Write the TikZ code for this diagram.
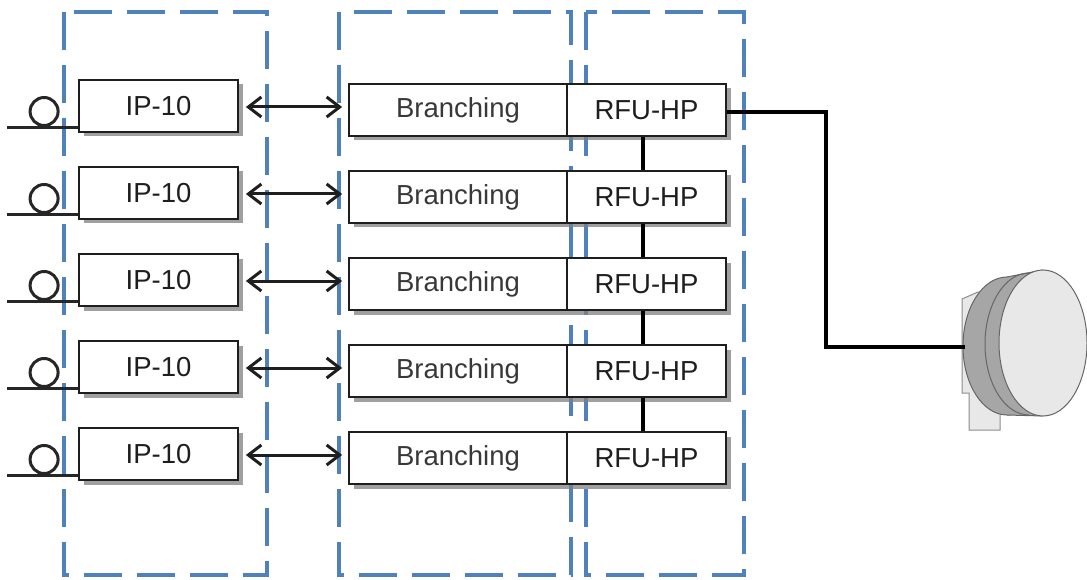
\documentclass[tikz,border=0pt]{standalone}
\usepackage{fontspec}
\setmainfont{Liberation Sans}
\usetikzlibrary{shadows,arrows.meta}
\definecolor{grpblue}{HTML}{4F81BD}
\definecolor{boxline}{HTML}{1E1E1E}
\definecolor{rimgray}{HTML}{A6A6A6}
\definecolor{facegray}{HTML}{E8E8E8}
\begin{document}
\begin{tikzpicture}[x=1pt,y=-1pt,
  unit/.style={draw=boxline, line width=1.8pt, fill=white, minimum height=52pt,
    inner sep=0pt, font=\fontsize{27.5}{30}\selectfont, text=boxline,
    drop shadow={shadow xshift=4.5pt, shadow yshift=-4.5pt, fill=black!50, opacity=0.75}},
  ipbox/.style={unit, minimum width=159pt},
  brbox/.style={unit, minimum width=218pt, text=black!78},
  rfubox/.style={unit, minimum width=159pt},
  group/.style={draw=grpblue, line width=3.6pt, dash pattern=on 38pt off 15pt},
  link/.style={draw=boxline, line width=3pt, {Straight Barb[length=13pt,width=20pt,line width=3pt]}-{Straight Barb[length=13pt,width=20pt,line width=3pt]}, shorten <=7pt, shorten >=6pt},
  feeder/.style={draw=black, line width=4pt},
  spool/.style={draw=black!85, line width=3pt}
]
\useasboundingbox (0,0) rectangle (1087,580);

% equipment groups
\draw[group] (64,12) rectangle (267,575);
\draw[group] (339,12) rectangle (571,575);
\draw[group] (586,12) rectangle (744,575);

% five radio chains
\foreach \i in {1,...,5}{
  \pgfmathsetmacro{\yy}{106+87*(\i-1)}
  \pgfmathsetmacro{\yb}{110+87*(\i-1)}
  \node[ipbox] (ip\i) at (158.5,\yy) {IP-10};
  \node[brbox] (br\i) at (458,\yb) {Branching};
  \node[rfubox] (rfu\i) at (646.5,\yb) {RFU-HP};
  \draw[link] ([yshift=-1pt]ip\i.east) -- ([yshift=-1pt]ip\i.east -| br\i.west);
  % line input with coil
  \coordinate (in\i) at ([xshift=-71pt,yshift=-21.5pt]ip\i.west);
  \draw[spool] (in\i) -- ([yshift=-21.5pt]ip\i.west);
  \draw[spool] ([xshift=37pt,yshift=16pt]in\i) circle (14pt);
}

% RFU interconnect
\foreach \a/\b in {1/2,2/3,3/4,4/5}{
  \draw[feeder] (rfu\a.south -| 643,0) -- (rfu\b.north -| 643,0);
}

% antenna
\coordinate (ant) at (965,347);
\draw[draw=black!45, fill=facegray, line width=1pt]
  (962,299) -- (978,292) -- (1000,292) -- (1000,430) -- (969,430) -- (969,393) -- (962,393) -- cycle;
\filldraw[draw=black!60, fill=rimgray, line width=1pt] (1007,346) ellipse (44pt and 69pt);
\fill[rimgray] (1007,277) -- (1043,270) -- (1043,416) -- (1007,415) -- cycle;
\draw[black!60, line width=1pt] (1007,277) -- (1043,270);
\draw[black!60, line width=1pt] (1007,415) -- (1043,416);
\draw[black!60, line width=1pt] (1029,273) arc[start angle=90, end angle=270, x radius=44pt, y radius=71pt];
\filldraw[draw=black!60, fill=facegray, line width=1pt] (1043,343) ellipse (44pt and 73pt);

% feeder to antenna
\coordinate (rfuout) at ([yshift=-2pt]rfu1.east);
\draw[feeder] (rfuout) -- (826,0 |- rfuout) -- (826,0 |- ant) -- (ant);
\end{tikzpicture}
\end{document}
